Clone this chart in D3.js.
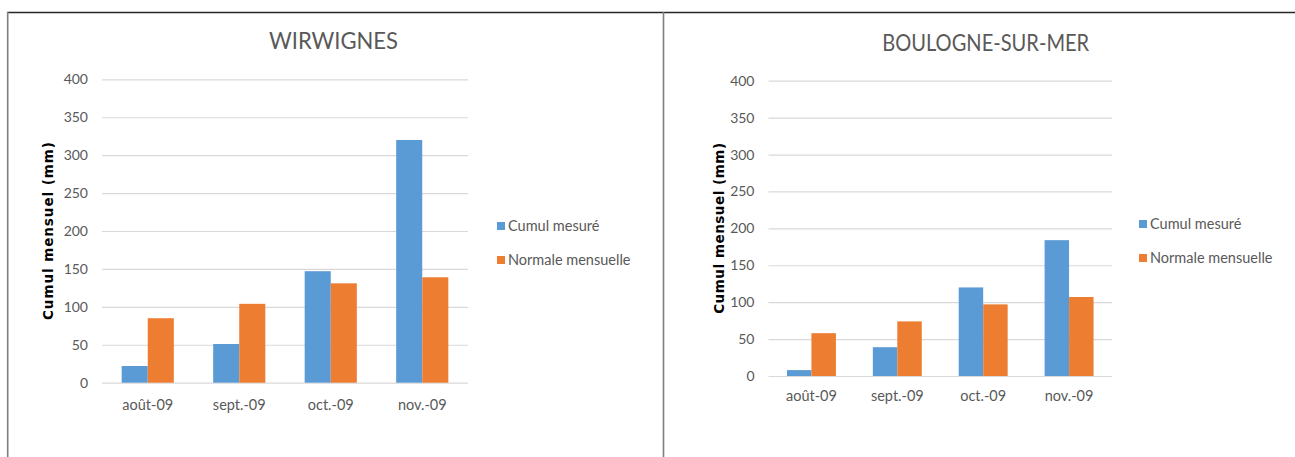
<!DOCTYPE html>
<html lang="fr">
<head>
<meta charset="utf-8">
<script src="https://cdn.jsdelivr.net/npm/d3@7"></script>
<style>
  html, body { margin: 0; padding: 0; background: #fff; }
  svg { display: block; }
  text { font-family: Lato, "Open Sans", sans-serif; }
  text.ytitle { font-family: "DejaVu Sans", Verdana, sans-serif; font-weight: bold; }
</style>
</head>
<body>
<svg id="chart" width="1295" height="457"></svg>
<script>
// Monthly rainfall totals (mm), Aug-Nov 2009
const months = ["août-09", "sept.-09", "oct.-09", "nov.-09"];
const seriesNames = ["Cumul mesuré", "Normale mensuelle"];
const seriesColors = ["#5B9BD5", "#ED7D31"];
const yTicks = [0, 50, 100, 150, 200, 250, 300, 350, 400];

const wirwignesMesure = [22, 51, 147, 320];
const wirwignesNormale = [85, 104, 131, 139];

const boulogneMesure = [8, 39, 120, 184];
const boulogneNormale = [58, 74, 97, 107];

const yTitle = "Cumul mensuel (mm)";

const svg = d3.select("#chart");

// Outer frame: dark top rule, grey side rules
svg.append("line").attr("x1", 7).attr("x2", 1295).attr("y1", 12.5).attr("y2", 12.5)
  .attr("stroke", "#262626").attr("stroke-width", 1.4);
svg.append("line").attr("x1", 7.7).attr("x2", 7.7).attr("y1", 12).attr("y2", 457)
  .attr("stroke", "#7f7f7f").attr("stroke-width", 1.6);
svg.append("line").attr("x1", 663.5).attr("x2", 663.5).attr("y1", 12).attr("y2", 457)
  .attr("stroke", "#7f7f7f").attr("stroke-width", 1.6);

function drawChart(cfg) {
  const g = svg.append("g");
  const rows = cfg.categories.map((c, i) => ({
    cat: c,
    values: cfg.series.map((s, k) => ({ name: seriesNames[k], value: s[i], k }))
  }));

  const x0 = d3.scaleBand().domain(cfg.categories)
    .range([cfg.left, cfg.right]).paddingInner(0.43).paddingOuter(0.215);
  const x1 = d3.scaleBand().domain(seriesNames).range([0, x0.bandwidth()]);
  const y = d3.scaleLinear().domain([0, 400]).range([cfg.bottom, cfg.top]);

  // Gridlines and value labels
  const yAxis = d3.axisLeft(y).tickValues(yTicks)
    .tickSize(-(cfg.right - cfg.left)).tickPadding(14).tickFormat(d3.format("d"));
  const ya = g.append("g").attr("transform", `translate(${cfg.left},0)`).call(yAxis);
  ya.select(".domain").remove();
  ya.selectAll(".tick line").attr("stroke", "#d9d9d9").attr("stroke-width", 1.2);
  ya.selectAll(".tick text").attr("fill", "#595959").attr("font-size", 14);

  // Bars
  const grp = g.selectAll(".cat").data(rows).join("g")
    .attr("transform", d => `translate(${x0(d.cat)},0)`);
  grp.selectAll("rect").data(d => d.values).join("rect")
    .attr("x", d => x1(d.name))
    .attr("width", x1.bandwidth())
    .attr("y", d => y(d.value))
    .attr("height", d => y(0) - y(d.value))
    .attr("fill", d => seriesColors[d.k]);

  // Category axis
  const xAxis = d3.axisBottom(x0).tickSize(0).tickPadding(cfg.xPad);
  const xa = g.append("g").attr("transform", `translate(0,${cfg.bottom})`).call(xAxis);
  xa.select(".domain").remove();
  xa.selectAll(".tick text").attr("fill", "#595959").attr("font-size", 14.5);

  // Title, set in a condensed width
  g.append("text").attr("x", cfg.titleX).attr("y", cfg.titleY)
    .attr("text-anchor", "middle").attr("fill", "#595959")
    .attr("font-size", 23)
    .attr("textLength", cfg.titleLen).attr("lengthAdjust", "spacingAndGlyphs")
    .text(cfg.title);

  // Vertical axis title
  g.append("text").attr("class", "ytitle")
    .attr("transform", `translate(${cfg.yTitleX},${(cfg.top + cfg.bottom) / 2}) rotate(-90)`)
    .attr("text-anchor", "middle")
    .attr("font-size", 13.5).attr("fill", "#000")
    .attr("textLength", cfg.yTitleLen).attr("lengthAdjust", "spacing")
    .text(yTitle);

  // Legend
  const lg = g.append("g").attr("transform", `translate(${cfg.legendX},${cfg.legendY})`);
  seriesNames.forEach((name, k) => {
    const row = lg.append("g").attr("transform", `translate(0,${k * 34})`);
    row.append("rect").attr("x", 0).attr("y", -4).attr("width", 8).attr("height", 8)
      .attr("fill", seriesColors[k]);
    row.append("text").attr("x", 11).attr("y", 0).attr("dy", "0.35em")
      .attr("fill", "#595959").attr("font-size", 14.5).text(name);
  });
}

drawChart({
  title: "WIRWIGNES",
  categories: months,
  series: [wirwignesMesure, wirwignesNormale],
  left: 102, right: 468, top: 79.3, bottom: 382.7,
  titleX: 333.5, titleY: 48.5, titleLen: 129,
  yTitleX: 53, yTitleLen: 178,
  xPad: 17,
  legendX: 497, legendY: 226
});

drawChart({
  title: "BOULOGNE-SUR-MER",
  categories: months,
  series: [boulogneMesure, boulogneNormale],
  left: 768.5, right: 1112, top: 80.7, bottom: 376,
  titleX: 985.7, titleY: 50.7, titleLen: 207,
  yTitleX: 724, yTitleLen: 171,
  xPad: 15,
  legendX: 1139, legendY: 224
});
</script>
</body>
</html>
